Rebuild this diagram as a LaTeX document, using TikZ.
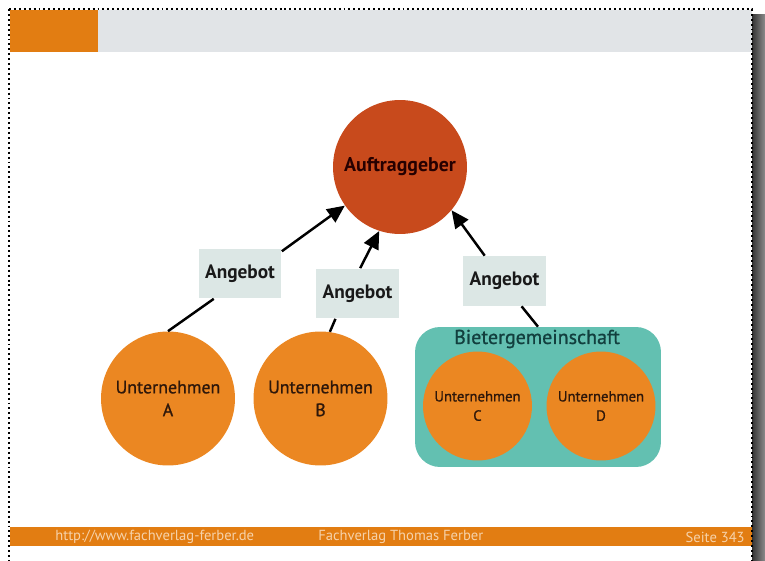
\documentclass[tikz,border=0pt]{standalone}
\usepackage{fontspec}
\setmainfont{PT Sans}
\newfontfamily\halbfett[FakeBold=0.9]{PT Sans}
\usepackage{tikz}
\usetikzlibrary{calc}
\usetikzlibrary{arrows.meta,shapes}

\definecolor{ffOrange}{HTML}{E27D12}
\definecolor{ffGray}{HTML}{E1E4E7}
\definecolor{ffFoot}{HTML}{F6D2AA}
\definecolor{aufRed}{HTML}{C84A1C}
\definecolor{untOrange}{HTML}{EB8722}
\definecolor{bgTeal}{HTML}{63C0B1}
\definecolor{bgText}{HTML}{123F3E}
\definecolor{angFill}{HTML}{DCE7E5}
\definecolor{untText}{HTML}{2E170A}

\tikzset{
  firma/.style={circle,fill=untOrange,inner sep=0pt,align=center,text=untText},
  angebot/.style={rectangle,fill=angFill,inner sep=0pt,minimum width=1.66cm,minimum height=1cm,font=\fontsize{11}{13}\selectfont\bfseries,text=black!90},
  fusszeile/.style={text=ffFoot,inner sep=0pt,font=\fontsize{8.3}{10}\selectfont},
  pfeil/.style={line width=1.4pt,-{Triangle[length=10pt,width=9pt]}},
  linie/.style={line width=1.4pt}
}

\begin{document}
\begin{tikzpicture}[x=0.02cm,y=-0.02cm]

\useasboundingbox (0,0) rectangle (765,561);

% header and footer
\fill[ffGray] (98,10) rectangle (752,52);
\fill[ffOrange] (10,10) rectangle (98,52);
\fill[ffOrange] (10,527) rectangle (752,546);
\shade[left color=black!80,right color=black!45] (752,14) rectangle (765,561);
\draw[line width=1.1pt,dash pattern=on 1.1pt off 1.7pt] (9,9) -- (752,9) -- (752,561);
\draw[line width=1.1pt,dash pattern=on 1.1pt off 1.7pt] (9,9) -- (9,561);

\node[fusszeile,anchor=west] (url) at (55,537) {http://www.fachverlag-ferber.de};
\node[fusszeile,anchor=west] (verlag) at (318,537) {Fachverlag Thomas Ferber};
\node[fusszeile,anchor=east] (seite) at (745,537) {Seite 343};

% Auftraggeber
\node[circle,fill=aufRed,minimum size=2.68cm,inner sep=0pt,font=\fontsize{11.3}{14}\selectfont\bfseries,text=black!85!red] (auf) at (400,167) {Auftraggeber};

% Bietergemeinschaft
\node[rectangle,rounded corners=0.5cm,fill=bgTeal,minimum width=4.92cm,minimum height=2.8cm] (bieter) at (538,397) {};
\node[text=bgText,font=\halbfett\fontsize{11.4}{14}\selectfont] (bietertitel) at (537,339) {Bietergemeinschaft};

% Unternehmen
\node[firma,minimum size=2.68cm,font=\halbfett\fontsize{10.2}{13}\selectfont] (A) at (168,398.5) {Unternehmen\\A};
\node[firma,minimum size=2.68cm,font=\halbfett\fontsize{10.2}{13}\selectfont] (B) at (320.5,398.5) {Unternehmen\\B};
\node[firma,minimum size=2.18cm,font=\halbfett\fontsize{8.4}{11}\selectfont] (C) at (477.5,406) {Unternehmen\\C};
\node[firma,minimum size=2.18cm,font=\halbfett\fontsize{8.4}{11}\selectfont] (D) at (601,406) {Unternehmen\\D};

% Angebote
\node[angebot] (ang1) at (240,273.5) {Angebot};
\node[angebot] (ang2) at (357.5,293.5) {Angebot};
\node[angebot] (ang3) at (504.5,281) {Angebot};

\draw[linie] (A.north) -- (ang1.224);
\draw[linie] (B.82) -- (ang2.229);
\draw[linie] (bieter.north) -- (ang3.304);

\draw[pfeil] (ang1.28) -- (auf.215);
\draw[pfeil] (ang2.84) -- (auf.252);
\draw[pfeil] (ang3.128) -- (auf.320);

\end{tikzpicture}
\end{document}
